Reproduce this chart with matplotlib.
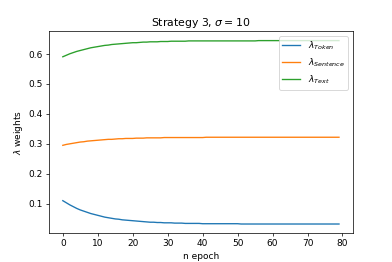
import matplotlib
matplotlib.use("Agg")
import matplotlib.pyplot as plt

epochs = list(range(80))

token = [0.110, 0.103, 0.096, 0.090, 0.084, 0.079, 0.075, 0.071, 0.067, 0.064,
         0.061, 0.058, 0.055, 0.053, 0.051, 0.049, 0.048, 0.046, 0.045, 0.044,
         0.043, 0.042, 0.041, 0.040, 0.039, 0.038, 0.038, 0.037, 0.037, 0.036,
         0.036, 0.036, 0.035, 0.035, 0.035, 0.034, 0.034, 0.034, 0.034, 0.034,
         0.033, 0.033, 0.033, 0.033, 0.033, 0.033, 0.033, 0.033, 0.033, 0.033,
         0.033, 0.032, 0.032, 0.032, 0.032, 0.032, 0.032, 0.032, 0.032, 0.032,
         0.032, 0.032, 0.032, 0.032, 0.032, 0.032, 0.032, 0.032, 0.032, 0.032,
         0.032, 0.032, 0.032, 0.032, 0.032, 0.032, 0.032, 0.032, 0.032, 0.032]

sentence = [0.295, 0.298, 0.300, 0.302, 0.304, 0.306, 0.307, 0.309, 0.310, 0.311,
            0.312, 0.313, 0.314, 0.315, 0.315, 0.316, 0.317, 0.317, 0.318, 0.318,
            0.318, 0.319, 0.319, 0.319, 0.320, 0.320, 0.320, 0.320, 0.320, 0.321,
            0.321, 0.321, 0.321, 0.321, 0.321, 0.321, 0.321, 0.321, 0.321, 0.321,
            0.321, 0.322, 0.322, 0.322, 0.322, 0.322, 0.322, 0.322, 0.322, 0.322,
            0.322, 0.322, 0.322, 0.322, 0.322, 0.322, 0.322, 0.322, 0.322, 0.322,
            0.322, 0.322, 0.322, 0.322, 0.322, 0.322, 0.322, 0.322, 0.322, 0.322,
            0.322, 0.322, 0.322, 0.322, 0.322, 0.322, 0.322, 0.322, 0.322, 0.322]

text = [0.591, 0.596, 0.601, 0.605, 0.609, 0.612, 0.615, 0.618, 0.621, 0.623,
        0.625, 0.627, 0.629, 0.630, 0.632, 0.633, 0.634, 0.635, 0.636, 0.637,
        0.638, 0.638, 0.639, 0.640, 0.640, 0.641, 0.641, 0.641, 0.642, 0.642,
        0.642, 0.643, 0.643, 0.643, 0.643, 0.643, 0.644, 0.644, 0.644, 0.644,
        0.644, 0.644, 0.644, 0.644, 0.644, 0.644, 0.644, 0.644, 0.644, 0.644,
        0.644, 0.644, 0.644, 0.644, 0.644, 0.644, 0.645, 0.645, 0.645, 0.645,
        0.645, 0.645, 0.645, 0.645, 0.645, 0.645, 0.645, 0.645, 0.645, 0.645,
        0.645, 0.645, 0.645, 0.645, 0.645, 0.645, 0.645, 0.645, 0.645, 0.645]

labels = [r"$\lambda_{Token}$", r"$\lambda_{Sentence}$", r"$\lambda_{Text}$"]

fig, ax = plt.subplots(figsize=(392/65, 262/65), dpi=65)
ax.plot(epochs, token, label=labels[0])
ax.plot(epochs, sentence, label=labels[1])
ax.plot(epochs, text, label=labels[2])
ax.set_title(r"Strategy 3, $\sigma = 10$")
ax.set_xlabel("n epoch")
ax.set_ylabel(r"$\lambda$ weights")
ax.legend(loc="upper right")
fig.savefig("out.png", dpi=65)
